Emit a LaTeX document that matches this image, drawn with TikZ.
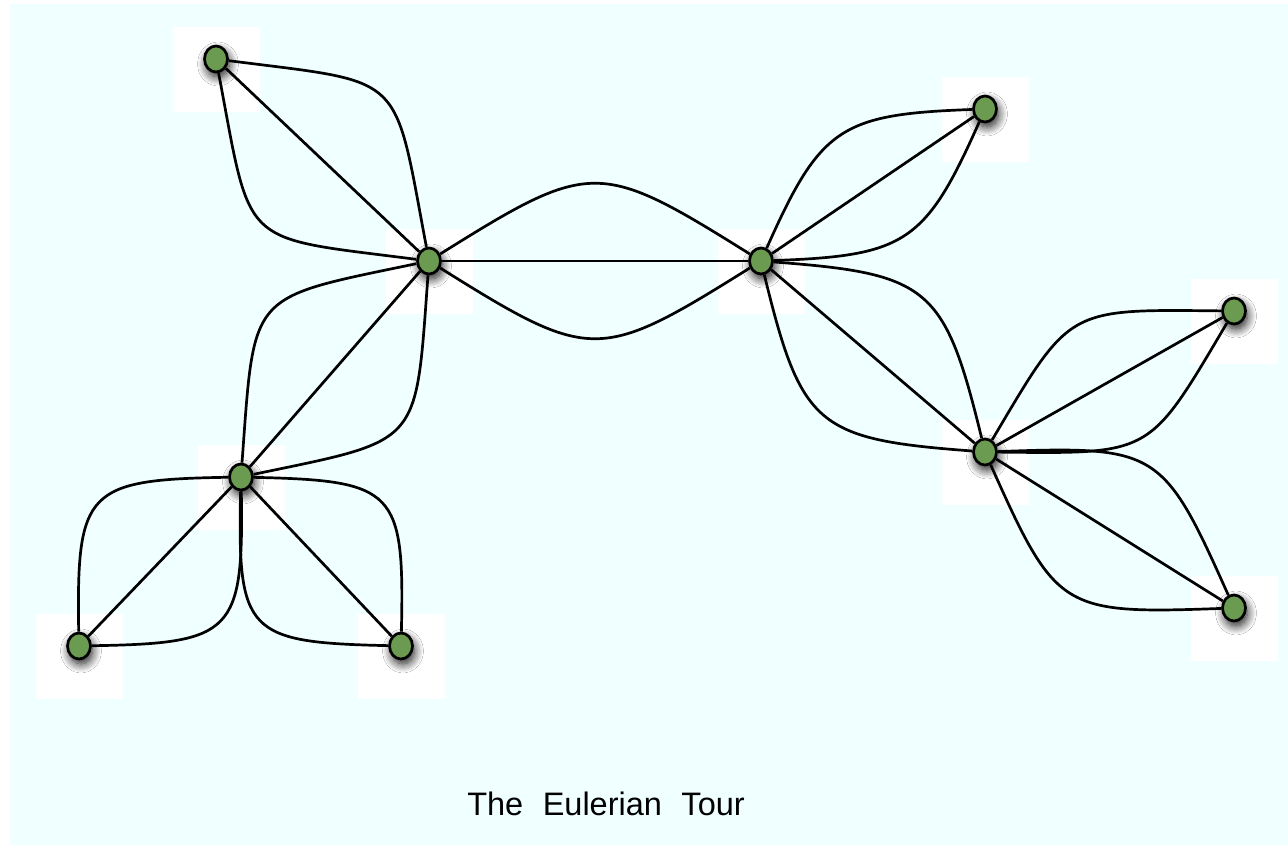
\documentclass[tikz,border=0pt]{standalone}
\usepackage{fontspec}
\setmainfont{Liberation Sans}
\usetikzlibrary{shapes.geometric,shadows.blur}
\definecolor{bgcyan}{RGB}{240,255,255}
\definecolor{nodegreen}{RGB}{107,155,80}
\begin{document}
\begin{tikzpicture}[x=1pt,y=-1pt,
  vtx/.style={ellipse, draw=black, line width=2.7pt, fill=nodegreen,
    minimum width=23pt, minimum height=26pt, inner sep=0pt,
    blur shadow={shadow xshift=2pt, shadow yshift=-5pt, shadow blur radius=9pt, shadow blur steps=12, shadow opacity=90}},
  edge/.style={line width=2.7pt, draw=black},
  pad/.style={fill=white, draw=none}
]
\useasboundingbox (0,0) rectangle (1288,845);
\fill[bgcyan] (10,4) rectangle (1288,845);
% white pads behind vertices
\foreach \x/\y in {216/59, 429/261, 761/261, 985/109, 1234/311, 985/452, 1234/608, 241/477, 79/646, 401/646}
  \fill[pad] (\x-43,\y-32) rectangle (\x+44,\y+53);
% vertices
\node[vtx] (A) at (216,59) {};
\node[vtx] (B) at (429,261) {};
\node[vtx] (C) at (761,261) {};
\node[vtx] (D) at (985,109) {};
\node[vtx] (E) at (1234,311) {};
\node[vtx] (F) at (985,452) {};
\node[vtx] (G) at (1234,608) {};
\node[vtx] (H) at (241,477) {};
\node[vtx] (I) at (79,646) {};
\node[vtx] (J) at (401,646) {};
% edges: each pair joined by a straight line and two curves
\foreach \a/\b/\t/\d in {A/B/36/180, B/C/32/178, C/D/32/132, C/F/36/156, F/E/30/155, F/G/34/160, H/I/45/142, H/J/45/142, B/H/37/173} {
  \draw[edge] (\a) -- (\b);
  \draw[edge] (\a) to[bend left=\t, distance=\d pt] (\b);
  \draw[edge] (\a) to[bend right=\t, distance=\d pt] (\b);
}
\node[font=\fontsize{32.5}{38}\selectfont, anchor=base, inner sep=0pt] (title) at (606,815) {The\hspace{19.5pt}Eulerian\hspace{19.5pt}Tour};
\end{tikzpicture}
\end{document}
